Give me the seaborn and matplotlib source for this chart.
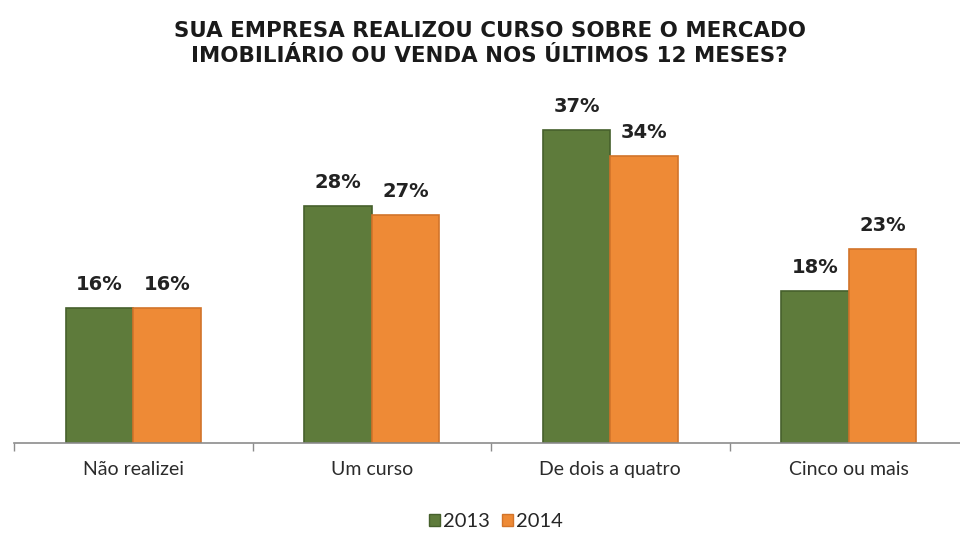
import matplotlib
matplotlib.use("Agg")
import matplotlib.pyplot as plt
import seaborn as sns
import pandas as pd
from matplotlib.patches import Patch

categories = ["Não realizei", "Um curso", "De dois a quatro", "Cinco ou mais"]
years = ["2013", "2014"]
values_2013 = [16, 28, 37, 18]
values_2014 = [16, 27, 34, 23]

df = pd.DataFrame({
    "categoria": categories * 2,
    "ano": [years[0]] * len(categories) + [years[1]] * len(categories),
    "valor": values_2013 + values_2014,
})

sns.set_theme(style="white")
plt.rcParams["font.family"] = ["DejaVu Sans"]

colors = {"2013": "#5e7b3b", "2014": "#ee8a36"}
edges = {"2013": "#46602c", "2014": "#d2742a"}

fig = plt.figure(figsize=(9.6, 5.33), dpi=100)
# axis runs slightly past the right edge of the figure
ax = fig.add_axes([14 / 960, 0.169, 954 / 960, 0.634])

sns.barplot(data=df, x="categoria", y="valor", hue="ano", order=categories,
            hue_order=years, palette=colors, width=0.566, ax=ax,
            legend=False, saturation=1)

for container, yr in zip(ax.containers, years):
    for bar in container:
        bar.set_edgecolor(edges[yr])
        bar.set_linewidth(1.2)
    ax.bar_label(container, labels=[f"{v:.0f}%" for v in container.datavalues],
                 padding=10, fontsize=14, fontweight="bold", color="#222222")

ax.set_xlim(-0.5, 3.5)
ax.set_ylim(0, 40)
ax.set_xlabel("")
ax.set_ylabel("")
ax.set_yticks([])
for s in ["top", "right", "left"]:
    ax.spines[s].set_visible(False)
ax.spines["bottom"].set_color("#8c8c8c")
ax.spines["bottom"].set_linewidth(1.2)

# category boundaries as tick marks, labels at category centres
ax.set_xticks([i - 0.5 for i in range(len(categories) + 1)])
ax.set_xticklabels([])
ax.tick_params(axis="x", which="major", length=6, width=1, color="#8c8c8c",
               direction="out", bottom=True)
for i, c in enumerate(categories):
    ax.text(i, -3.2, c, ha="center", va="center", fontsize=14,
            color="#2b2b2b", family="Lato")

fig.text(0.51, 0.919, "SUA EMPRESA REALIZOU CURSO SOBRE O MERCADO\nIMOBILIÁRIO OU VENDA NOS ÚLTIMOS 12 MESES?",
         ha="center", va="center", fontsize=15.4, fontweight="bold",
         color="#1a1a1a", linespacing=1.3)

handles = [Patch(facecolor=colors[y], edgecolor=edges[y]) for y in years]
fig.legend(handles, years, loc="center", bbox_to_anchor=(0.517, 0.022), ncol=2,
           frameon=False, handlelength=0.55, handleheight=0.55,
           handletextpad=0.15, columnspacing=0.6,
           prop={"family": "Lato", "size": 14.5})

fig.savefig("out.png", dpi=100, facecolor="white")
